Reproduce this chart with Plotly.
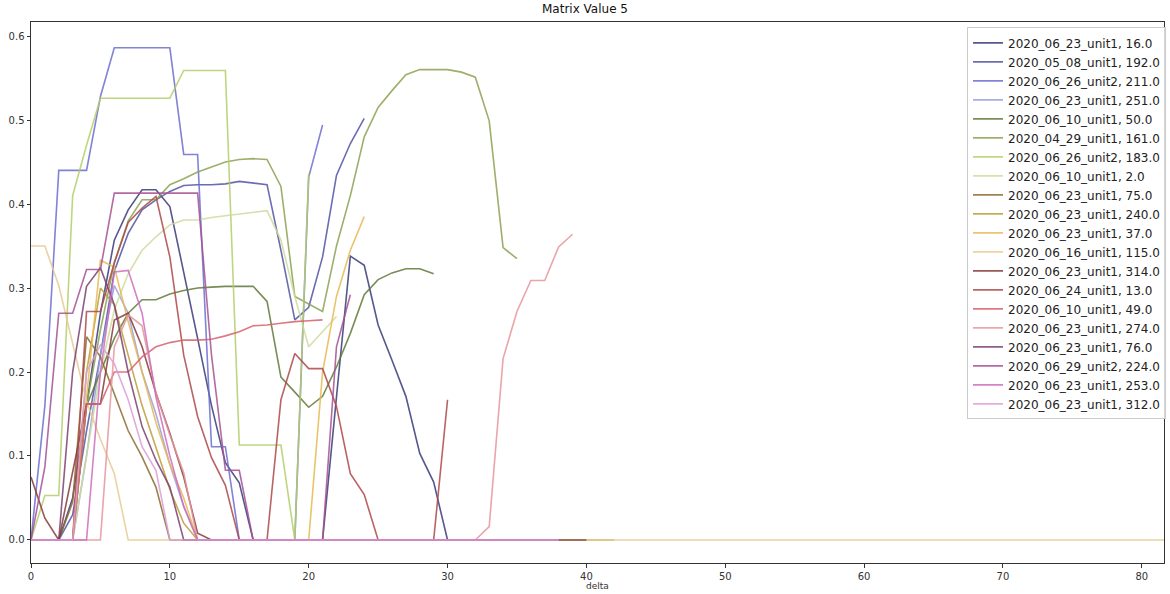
import plotly.graph_objects as go

names = [
    "2020_06_23_unit1, 16.0", "2020_05_08_unit1, 192.0", "2020_06_26_unit2, 211.0",
    "2020_06_23_unit1, 251.0", "2020_06_10_unit1, 50.0", "2020_04_29_unit1, 161.0",
    "2020_06_26_unit2, 183.0", "2020_06_10_unit1, 2.0", "2020_06_23_unit1, 75.0",
    "2020_06_23_unit1, 240.0", "2020_06_23_unit1, 37.0", "2020_06_16_unit1, 115.0",
    "2020_06_23_unit1, 314.0", "2020_06_24_unit1, 13.0", "2020_06_10_unit1, 49.0",
    "2020_06_23_unit1, 274.0", "2020_06_23_unit1, 76.0", "2020_06_29_unit2, 224.0",
    "2020_06_23_unit1, 253.0", "2020_06_23_unit1, 312.0",
]

colors = ["#393b79", "#5254a3", "#6b6ecf", "#9c9ede", "#637939", "#8ca252", "#b5cf6b",
          "#cedb9c", "#8c6d31", "#bd9e39", "#e7ba52", "#e7cb94", "#843c39", "#ad494a",
          "#d6616b", "#e7969c", "#7b4173", "#a55194", "#ce6dbd", "#de9ed6"]

s16 = [0, 0, 0, 0.05, 0.16, 0.27, 0.357, 0.393, 0.417, 0.417, 0.397, 0.32, 0.24, 0.16,
       0.092, 0.068, 0, 0, 0, 0, 0, 0, 0.17, 0.338, 0.327, 0.256, 0.214, 0.171, 0.103,
       0.069, 0]
s192 = [0, 0, 0, 0.03, 0.13, 0.22, 0.32, 0.365, 0.393, 0.405, 0.415, 0.422, 0.423, 0.423,
        0.424, 0.427, 0.425, 0.423, 0.345, 0.262, 0.277, 0.337, 0.434, 0.472, 0.502]
s211 = [0, 0.16, 0.44, 0.44, 0.44, 0.528, 0.586, 0.586, 0.586, 0.586, 0.586, 0.459, 0.459,
        0.111, 0.111, 0, 0, 0, 0, 0, 0.432, 0.494]
s251 = [0, 0, 0, 0, 0.1, 0.22, 0.303, 0.27, 0.2, 0.15, 0.09, 0.04] + [0] * 27
s50 = [0, 0, 0, 0, 0.16, 0.2, 0.24, 0.27, 0.286, 0.286, 0.293, 0.297, 0.3, 0.301, 0.302,
       0.302, 0.302, 0.284, 0.194, 0.176, 0.158, 0.171, 0.206, 0.246, 0.292, 0.31, 0.318,
       0.323, 0.323, 0.317]
s161 = [0, 0, 0, 0, 0.16, 0.25, 0.33, 0.38, 0.405, 0.405, 0.423, 0.43, 0.438, 0.444, 0.45,
        0.453, 0.454, 0.453, 0.421, 0.29, 0.281, 0.272, 0.35, 0.41, 0.48, 0.515, 0.535,
        0.554, 0.56, 0.56, 0.56, 0.557, 0.551, 0.499, 0.348, 0.335]
s183 = [0, 0.053, 0.053, 0.41, 0.47, 0.526, 0.526, 0.526, 0.526, 0.526, 0.526, 0.559, 0.559,
        0.559, 0.559, 0.113, 0.113, 0.113, 0.113, 0, 0.436]
s2 = [0, 0, 0, 0, 0.1, 0.2, 0.274, 0.317, 0.345, 0.361, 0.375, 0.381, 0.381, 0.384, 0.386,
      0.388, 0.39, 0.392, 0.357, 0.29, 0.23, 0.248, 0.266]
s75 = [0, 0, 0, 0.045, 0.242, 0.218, 0.175, 0.13, 0.099, 0.063] + [0] * 29
s240 = [0, 0, 0, 0, 0.2, 0.3, 0.28, 0.22, 0.16, 0.11, 0.06, 0.02] + [0] * 31
s37 = [0, 0, 0, 0, 0.17, 0.333, 0.325, 0.26, 0.2, 0.14, 0.09, 0.05, 0, 0, 0, 0, 0, 0, 0, 0,
       0, 0.2, 0.29, 0.345, 0.385]
s115 = [0.35, 0.35, 0.303, 0.235, 0.165, 0.12, 0.079] + [0] * 76
s314 = [0.075, 0.026, 0, 0.08, 0.162, 0.162, 0.262, 0.27, 0.23, 0.175, 0.127, 0.075, 0.008] + [0] * 28
s13 = [0, 0, 0, 0, 0.272, 0.272, 0.33, 0.378, 0.395, 0.409, 0.337, 0.22, 0.147, 0.098,
       0.065, 0, 0, 0, 0.167, 0.222, 0.204, 0.204, 0.159, 0.079, 0.054, 0, 0, 0, 0, 0, 0.167]
s49 = [0, 0, 0, 0, 0.162, 0.162, 0.2, 0.2, 0.218, 0.23, 0.235, 0.238, 0.238, 0.239, 0.243,
       0.248, 0.255, 0.256, 0.258, 0.26, 0.261, 0.262]
s274 = [0, 0, 0, 0, 0, 0, 0.23, 0.268, 0.255, 0.175, 0.125, 0.08] + [0] * 21 + \
       [0.016, 0.216, 0.272, 0.309, 0.309, 0.349, 0.364]
s76 = [0, 0, 0, 0.2, 0.302, 0.324, 0.28, 0.2, 0.135, 0.095, 0.063] + [0] * 28
s224 = [0, 0.087, 0.27, 0.27, 0.322, 0.322, 0.413, 0.413, 0.413, 0.413, 0.413, 0.413, 0.413,
        0.22, 0.083, 0.083, 0, 0, 0, 0, 0, 0, 0.23, 0.292]
s253 = [0, 0, 0, 0, 0, 0.2, 0.319, 0.321, 0.27, 0.17, 0.1, 0.04] + [0] * 27
s312 = [0, 0, 0, 0, 0.2, 0.232, 0.21, 0.167, 0.111, 0.083] + [0] * 29

series = [s16, s192, s211, s251, s50, s161, s183, s2, s75, s240, s37, s115,
          s314, s13, s49, s274, s76, s224, s253, s312]

fig = go.Figure()
for name, col, ys in zip(names, colors, series):
    fig.add_trace(go.Scatter(
        x=list(range(len(ys))), y=ys, mode="lines", name=name,
        line=dict(color=col, width=1.6), opacity=0.85,
    ))

axis_common = dict(
    showline=True, linecolor="#333333", linewidth=1, mirror=True,
    ticks="outside", ticklen=3.5, tickcolor="#333333", tickwidth=1,
    showgrid=False, zeroline=False, automargin=False,
    tickfont=dict(family="DejaVu Sans", size=10, color="#333333"),
)

fig.update_layout(
    width=1170, height=594,
    margin=dict(l=31, r=5, t=22, b=31, pad=0),
    paper_bgcolor="white", plot_bgcolor="white",
    title=dict(text="Matrix Value 5", x=0.5, xanchor="center", y=0.993, yanchor="top",
               font=dict(family="DejaVu Sans", size=12, color="#111111")),
    xaxis=dict(range=[0, 81.6], tickvals=[0, 10, 20, 30, 40, 50, 60, 70, 80],
               title=dict(text="delta", font=dict(family="DejaVu Sans", size=9, color="#333333"),
                          standoff=2),
               **axis_common),
    yaxis=dict(range=[-0.0274, 0.6167], tickvals=[0, 0.1, 0.2, 0.3, 0.4, 0.5, 0.6],
               tickformat=".1f", **axis_common),
    legend=dict(x=0.8254, y=0.99, xanchor="left", yanchor="top",
                bgcolor="rgba(255,255,255,0.8)", bordercolor="#cccccc", borderwidth=1,
                font=dict(family="DejaVu Sans", size=12, color="#222222"),
                itemwidth=30, tracegroupgap=0),
    showlegend=True,
)

fig.write_html("out.html", config={"displayModeBar": False},
               post_script="document.body.style.margin='0';document.body.style.padding='0';")
